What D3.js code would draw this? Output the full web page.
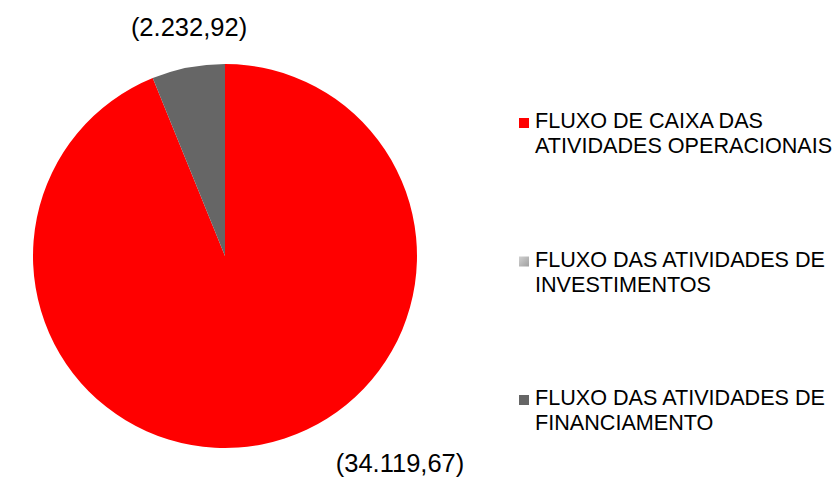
<!DOCTYPE html>
<html><head><meta charset="utf-8">
<script src="https://cdn.jsdelivr.net/npm/d3@7"></script>
<style>body{margin:0;background:#fff}svg{display:block}text{font-family:"Liberation Sans",Arial,sans-serif;fill:#000}</style>
</head><body>
<svg width="833" height="478"></svg>
<script>
const categories = ["FLUXO DE CAIXA DAS ATIVIDADES OPERACIONAIS","FLUXO DAS ATIVIDADES DE INVESTIMENTOS","FLUXO DAS ATIVIDADES DE FINANCIAMENTO"];
const legendLines = [["FLUXO DE CAIXA DAS","ATIVIDADES OPERACIONAIS"],["FLUXO DAS ATIVIDADES DE","INVESTIMENTOS"],["FLUXO DAS ATIVIDADES DE","FINANCIAMENTO"]];
const values = [34119.67, 0, 2232.92];
const valueLabels = ["(34.119,67)", "", "(2.232,92)"];
const colors = ["#ff0000", "#b8b8b8", "#666666"];

const svg = d3.select("svg");
const defs = svg.append("defs");
const g1 = defs.append("linearGradient").attr("id","invg").attr("x1","0").attr("y1","0").attr("x2","1").attr("y2","1");
g1.append("stop").attr("offset","0").attr("stop-color","#d0d0d0");
g1.append("stop").attr("offset","1").attr("stop-color","#a0a0a0");

const cx = 225, cy = 256, r = 192;
const pie = d3.pie().sort(null).value(d => d);
const arcs = pie(values);
const arc = d3.arc().innerRadius(0).outerRadius(r);
const g = svg.append("g").attr("transform", `translate(${cx},${cy})`);
g.selectAll("path").data(arcs).join("path")
  .attr("d", arc).attr("fill", (d,i) => colors[i]);

// value labels
const labelPos = [[400-cx, 472-cy], null, [189-cx, 36-cy]];
arcs.forEach((d,i) => {
  if (!valueLabels[i]) return;
  g.append("text").attr("x", labelPos[i][0]).attr("y", labelPos[i][1])
    .attr("text-anchor","middle").attr("font-size", 25.5).text(valueLabels[i]);
});

// legend
const legY = d3.scalePoint().domain(categories).range([128, 405]);
const leg = svg.append("g");
categories.forEach((c,i) => {
  const y = legY(c);
  leg.append("rect").attr("x", 519).attr("y", y-10).attr("width", 10).attr("height", 10)
    .attr("fill", i===1 ? "url(#invg)" : colors[i]);
  legendLines[i].forEach((t,j) => {
    leg.append("text").attr("x", 535).attr("y", y + j*25).attr("font-size", 21.6).text(t);
  });
});
</script>
</body></html>
